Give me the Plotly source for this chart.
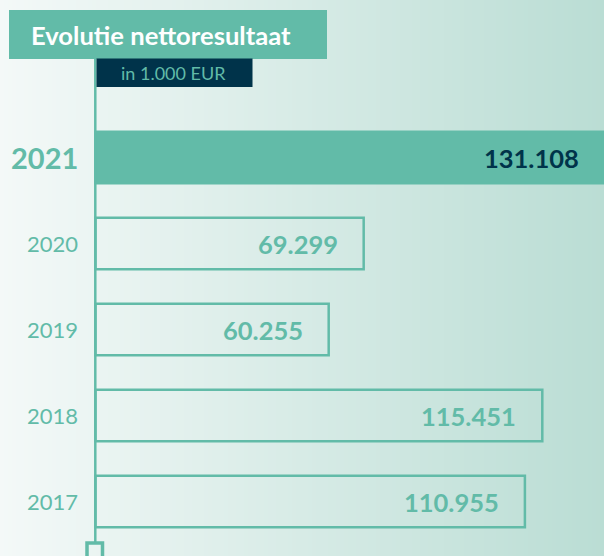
import plotly.graph_objects as go

# ---- data ----
years = ["2021", "2020", "2019", "2018", "2017"]
values = [131.108, 69.299, 60.255, 115.451, 110.955]
value_labels = ["131.108", "69.299", "60.255", "115.451", "110.955"]
highlight = [True, False, False, False, False]
title_text = "Evolutie nettoresultaat"
unit_text = "in 1.000 EUR"

# ---- style ----
W, H = 604, 556
TEAL = "#62BBA8"
NAVY = "#00334A"
FONT = "Lato"
BG_L = (244, 249, 248)
BG_R = (186, 221, 212)

PX_PER_UNIT = 3.87
AXIS_PX = 95.5
ROW0_PX = 157.5
ROW_STEP = 86.0

def px(x):
    return x / W

def py(y):
    return 1 - y / H

pos = list(range(len(years)))
fills = [TEAL if h else "rgba(0,0,0,0)" for h in highlight]

fig = go.Figure(
    go.Bar(
        x=values,
        y=pos,
        orientation="h",
        width=0.6,
        marker=dict(color=fills, line=dict(color=TEAL, width=2.5)),
        hoverinfo="skip",
    )
)

shapes = []
# background gradient
n = 151
sw = W / n
for i in range(n):
    t = (i + 0.5) / n
    c = tuple(round(BG_L[k] + (BG_R[k] - BG_L[k]) * t) for k in range(3))
    shapes.append(dict(type="rect", xref="paper", yref="paper",
                       x0=px(i * sw), x1=px((i + 1) * sw + 0.6), y0=0, y1=1,
                       fillcolor="rgb(%d,%d,%d)" % c, line=dict(width=0), layer="below"))
# vertical axis line
shapes.append(dict(type="line", xref="paper", yref="paper",
                   x0=px(95.3), x1=px(95.3), y0=py(58), y1=py(543),
                   line=dict(color=TEAL, width=2.5), layer="below"))
# bottom square
shapes.append(dict(type="rect", xref="paper", yref="paper",
                   x0=px(87), x1=px(102.5), y0=py(543), y1=py(562),
                   line=dict(color=TEAL, width=3.5), fillcolor="rgba(0,0,0,0)", layer="above"))
# title box
shapes.append(dict(type="rect", xref="paper", yref="paper",
                   x0=px(9), x1=px(327), y0=py(59), y1=py(10),
                   fillcolor=TEAL, line=dict(width=0), layer="above"))
# unit box
shapes.append(dict(type="rect", xref="paper", yref="paper",
                   x0=px(96.5), x1=px(252.5), y0=py(87), y1=py(58.5),
                   fillcolor=NAVY, line=dict(width=0), layer="above"))

annotations = []
annotations.append(dict(text=title_text, xref="paper", yref="paper", x=px(29), y=py(35),
                        xanchor="left", yanchor="middle", showarrow=False,
                        font=dict(family=FONT, size=25.6, color="white", weight=700)))
annotations.append(dict(text=unit_text, xref="paper", yref="paper", x=px(174), y=py(73.5),
                        xanchor="center", yanchor="middle", showarrow=False,
                        font=dict(family=FONT, size=18, color=TEAL)))

for i, (yr, v, lab, h) in enumerate(zip(years, values, value_labels, highlight)):
    annotations.append(dict(text=yr, xref="paper", yref="y", x=px(80), y=i,
                            xanchor="right", yanchor="middle", showarrow=False,
                            font=dict(family=FONT, size=29 if h else 22, color=TEAL,
                                      weight=700 if h else 400)))
    annotations.append(dict(text=lab, xref="x", yref="y", x=v, y=i, xshift=-22 if h else -24,
                            xanchor="right", yanchor="middle", showarrow=False,
                            font=dict(family=FONT, size=25.5, color=NAVY if h else TEAL, weight=700)))

x0 = -AXIS_PX / PX_PER_UNIT
x1 = x0 + W / PX_PER_UNIT
y_top = -ROW0_PX / ROW_STEP
y_bot = (H - ROW0_PX) / ROW_STEP

fig.update_layout(
    width=W, height=H,
    margin=dict(l=0, r=0, t=0, b=0),
    paper_bgcolor="white", plot_bgcolor="rgba(0,0,0,0)",
    showlegend=False,
    xaxis=dict(range=[x0, x1], visible=False, fixedrange=True),
    yaxis=dict(range=[y_bot, y_top], visible=False, fixedrange=True),
    shapes=shapes,
    annotations=annotations,
    font=dict(family=FONT),
)

fig.write_html("out.html", config={"displayModeBar": False},
               post_script="document.body.style.margin='0';document.body.style.overflow='hidden';")
